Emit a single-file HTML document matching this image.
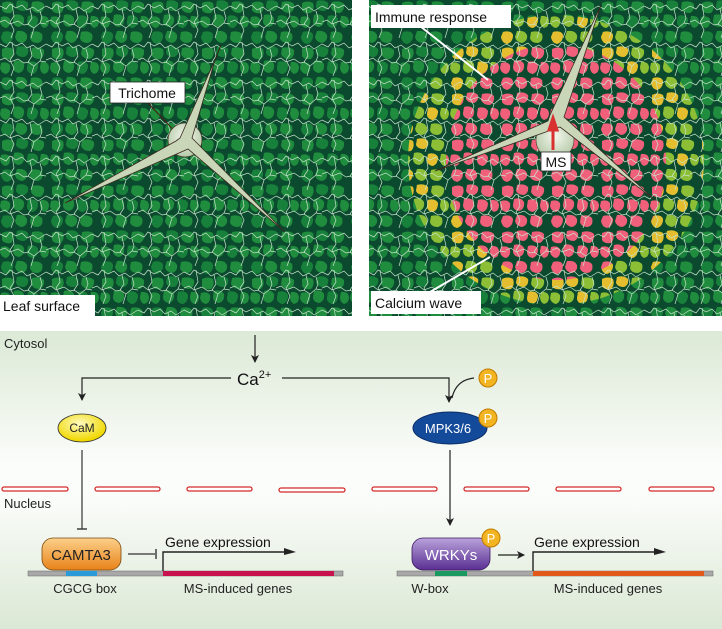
<!DOCTYPE html>
<html><head><meta charset="utf-8"><style>
html,body{margin:0;padding:0;background:#fff;}
svg{display:block;font-family:"Liberation Sans",Arial,sans-serif;}
</style></head><body>
<svg width="722" height="629" viewBox="0 0 722 629" xmlns="http://www.w3.org/2000/svg">
<defs>
 <g id="blobs">
  <path d="M2 3 Q8 0 13 3 Q15 9 11 13 Q4 14 2 10 Z"/>
  <path d="M17 1 Q24 -1 28 3 Q29 9 24 11 Q18 11 16 7 Z"/>
  <path d="M32 2 Q40 0 44 4 Q45 10 40 13 Q33 13 31 8 Z"/>
  <path d="M1 17 Q7 15 10 19 Q11 26 6 28 Q1 27 0 22 Z"/>
  <path d="M14 15 Q21 13 24 18 Q25 25 19 27 Q13 26 13 21 Z"/>
  <path d="M28 16 Q35 14 38 19 Q38 26 33 28 Q27 27 27 22 Z"/>
  <path d="M41 16 Q48 15 49 21 Q49 27 44 28 Q40 26 40 21 Z"/>
  <path d="M3 32 Q11 30 13 35 Q13 42 7 44 Q2 43 1 37 Z"/>
  <path d="M17 31 Q25 30 27 35 Q28 41 22 43 Q16 42 15 37 Z"/>
  <path d="M31 32 Q38 30 42 34 Q44 41 38 43 Q31 43 30 38 Z"/>
 </g>
 <pattern id="cellsG" width="50" height="46" patternUnits="userSpaceOnUse">
  <rect width="50" height="46" fill="#0b4a2e"/>
  <use href="#blobs" fill="#1f8c3e"/>
  <path d="M17 1 Q24 -1 28 3 Q29 9 24 11 Q18 11 16 7 Z M28 16 Q35 14 38 19 Q38 26 33 28 Q27 27 27 22 Z M3 32 Q11 30 13 35 Q13 42 7 44 Q2 43 1 37 Z" fill="#17803a"/>
 </pattern>
 <pattern id="cellsP" width="50" height="46" patternUnits="userSpaceOnUse">
  <rect width="50" height="46" fill="#0b4a2e"/>
  <use href="#blobs" fill="#f0607a"/>
 </pattern>
 <pattern id="cellsY" width="50" height="46" patternUnits="userSpaceOnUse">
  <rect width="50" height="46" fill="#0b4a2e"/>
  <use href="#blobs" fill="#8cbf36"/>
  <path d="M17 1 Q24 -1 28 3 Q29 9 24 11 Q18 11 16 7 Z M28 16 Q35 14 38 19 Q38 26 33 28 Q27 27 27 22 Z M3 32 Q11 30 13 35 Q13 42 7 44 Q2 43 1 37 Z M2 3 Q8 0 13 3 Q15 9 11 13 Q4 14 2 10 Z" fill="#e4be2e"/>
 </pattern>
 <pattern id="lines" width="46" height="38" patternUnits="userSpaceOnUse">
  <path d="M0 6 L6 9 L10 4 L16 8 L22 5 L27 10 L33 7 L38 11 L46 6 M12 4 L14 16 L10 22 L14 30 L11 38 M30 9 L32 18 L28 24 L34 28 L31 38 M0 22 L5 20 L10 24 L18 21 L24 25 L29 24 M34 28 L40 23 L46 24 M40 11 L42 18 L40 23" fill="none" stroke="#c8e4cc" stroke-width="0.7"/>
 </pattern>
 <linearGradient id="bg" x1="0" y1="0" x2="0" y2="1">
  <stop offset="0" stop-color="#dce9d6"/><stop offset="0.45" stop-color="#fbfdfa"/><stop offset="0.55" stop-color="#fbfdfa"/><stop offset="1" stop-color="#dbe8d5"/>
 </linearGradient>
 <linearGradient id="og" x1="0" y1="0" x2="0" y2="1"><stop offset="0" stop-color="#fbd08a"/><stop offset="1" stop-color="#e9831a"/></linearGradient>
 <linearGradient id="pg" x1="0" y1="0" x2="0" y2="1"><stop offset="0" stop-color="#b9a2dc"/><stop offset="1" stop-color="#5a2f92"/></linearGradient>
 <radialGradient id="yg" cx="0.45" cy="0.35" r="0.6"><stop offset="0" stop-color="#fffbc0"/><stop offset="1" stop-color="#f0d800"/></radialGradient>
 <radialGradient id="dome" cx="0.5" cy="0.4" r="0.6"><stop offset="0" stop-color="#f4f8ee"/><stop offset="1" stop-color="#b5c9a8"/></radialGradient>
 <clipPath id="cl"><rect x="0" y="0" width="352" height="316"/></clipPath>
 <clipPath id="cr"><rect x="369" y="0" width="353" height="316"/></clipPath>
 <marker id="ah" markerWidth="8" markerHeight="8" refX="7" refY="4" orient="auto" markerUnits="userSpaceOnUse"><path d="M0 0 L8 4 L0 8 L2 4z" fill="#222"/></marker>
</defs>

<g clip-path="url(#cl)">
 <rect x="0" y="0" width="352" height="316" fill="url(#cellsG)"/>
 <rect x="0" y="0" width="352" height="316" fill="url(#lines)"/>
 <line x1="148" y1="103" x2="183" y2="140" stroke="#4a1a10" stroke-width="1"/>
 <circle cx="185" cy="140" r="17" fill="url(#dome)" stroke="#4a3a2a" stroke-width="0.8"/>
 <path d="M180 138 L215 60 L192 138 L285 232 L188 149 L65 203 L176 141 Z" fill="#c9d6b8" stroke="#3a2a20" stroke-width="0.8"/>
 <line x1="215" y1="60" x2="221" y2="45" stroke="#3a1a10" stroke-width="1"/>
</g>
<rect x="110" y="82" width="75" height="21" fill="#fff" stroke="#222" stroke-width="0.8"/>
<text x="147" y="98" font-size="14" text-anchor="middle" fill="#111">Trichome</text>
<rect x="0" y="295" width="95" height="21" fill="#fff"/>
<text x="3" y="311" font-size="14" fill="#111">Leaf surface</text>

<g clip-path="url(#cr)">
 <rect x="369" y="0" width="353" height="316" fill="url(#cellsG)"/>
 <ellipse cx="556" cy="160" rx="148" ry="145" fill="url(#cellsY)"/>
 <ellipse cx="556" cy="162" rx="110" ry="118" fill="url(#cellsP)"/>
 <rect x="369" y="0" width="353" height="316" fill="url(#lines)"/>
 <circle cx="555" cy="140" r="19" fill="url(#dome)" stroke="#4a3a2a" stroke-width="0.6"/>
 <path d="M550 115 L601 5 L564 117 L655 200 L560 127 L435 171 L548 121 Z" fill="#c9d6b8" stroke="#3a2a20" stroke-width="0.8"/>
 <path d="M553 150 V127 M549 130 L553 118 L557 130 Z" stroke="#d93030" stroke-width="3" fill="#d93030"/>
</g>
<line x1="420" y1="26" x2="488" y2="80" stroke="#fff" stroke-width="2"/>
<line x1="430" y1="292" x2="490" y2="257" stroke="#fff" stroke-width="2"/>
<rect x="371" y="5" width="140" height="23" fill="#fff"/>
<text x="375" y="22" font-size="14" fill="#111">Immune response</text>
<rect x="541" y="152" width="30" height="19" fill="#fff" stroke="#222" stroke-width="0.8"/>
<text x="556" y="167" font-size="14" text-anchor="middle" fill="#111">MS</text>
<rect x="371" y="291" width="110" height="23" fill="#fff"/>
<text x="375" y="308" font-size="14" fill="#111">Calcium wave</text>

<rect x="0" y="331" width="722" height="298" fill="url(#bg)"/>
<text x="4" y="348" font-size="13" fill="#222">Cytosol</text>
<line x1="255" y1="335" x2="255" y2="362" stroke="#222" stroke-width="1.2" marker-end="url(#ah)"/>
<text x="237" y="385" font-size="17" fill="#111">Ca<tspan font-size="11" dy="-7">2+</tspan></text>
<path d="M231 378 H82 V400" fill="none" stroke="#222" stroke-width="1.2" marker-end="url(#ah)"/>
<path d="M282 378 H449 V402" fill="none" stroke="#222" stroke-width="1.2" marker-end="url(#ah)"/>
<path d="M474 378 Q456 380 452 398" fill="none" stroke="#222" stroke-width="1.2"/>
<circle cx="488" cy="378" r="9" fill="#f2b420" stroke="#c07a00" stroke-width="1"/>
<text x="488" y="383" font-size="13" text-anchor="middle" fill="#fff">P</text>

<ellipse cx="82" cy="428" rx="24" ry="14" fill="url(#yg)" stroke="#333" stroke-width="0.8"/>
<text x="82" y="432" font-size="12" text-anchor="middle" fill="#222">CaM</text>
<line x1="82" y1="450" x2="82" y2="529" stroke="#333" stroke-width="1.2"/>
<line x1="77" y1="529" x2="87" y2="529" stroke="#333" stroke-width="1.4"/>

<ellipse cx="450" cy="428" rx="37" ry="16" fill="#134a9a" stroke="#0a2c66" stroke-width="1"/>
<text x="448" y="433" font-size="13" text-anchor="middle" fill="#fff">MPK3/6</text>
<circle cx="488" cy="418" r="9" fill="#f2b420" stroke="#c07a00" stroke-width="1"/>
<text x="488" y="423" font-size="13" text-anchor="middle" fill="#fff">P</text>
<line x1="450" y1="450" x2="450" y2="525" stroke="#222" stroke-width="1.2" marker-end="url(#ah)"/>

<g fill="#fff" stroke="#d42a2a" stroke-width="1.3">
 <rect x="2" y="487" width="66" height="4" rx="2"/><rect x="95" y="487" width="65" height="4" rx="2"/>
 <rect x="187" y="487" width="65" height="4" rx="2"/><rect x="279" y="488" width="66" height="4" rx="2"/>
 <rect x="372" y="487" width="65" height="4" rx="2"/><rect x="464" y="487" width="65" height="4" rx="2"/>
 <rect x="556" y="487" width="65" height="4" rx="2"/><rect x="649" y="487" width="65" height="4" rx="2"/>
</g>
<text x="4" y="508" font-size="13" fill="#222">Nucleus</text>

<rect x="28" y="571" width="315" height="5" fill="#a8a8a8" stroke="#666" stroke-width="0.5"/>
<rect x="66" y="571" width="31" height="5" fill="#2a9ad8"/>
<rect x="163" y="571" width="171" height="5" fill="#c8124e"/>
<rect x="42" y="538" width="79" height="32" rx="11" fill="url(#og)" stroke="#7a4a10" stroke-width="0.8"/>
<text x="81" y="560" font-size="15" text-anchor="middle" fill="#222">CAMTA3</text>
<line x1="128" y1="554" x2="155" y2="554" stroke="#333" stroke-width="1.2"/>
<line x1="156" y1="549" x2="156" y2="559" stroke="#333" stroke-width="1.4"/>
<path d="M163 571 V552 H288" fill="none" stroke="#222" stroke-width="1.4"/>
<path d="M284 548 L296 552 L284 555 Z" fill="#222"/>
<text x="165" y="547" font-size="14" fill="#111">Gene expression</text>
<text x="85" y="593" font-size="13" text-anchor="middle" fill="#222">CGCG box</text>
<text x="238" y="593" font-size="13" text-anchor="middle" fill="#222">MS-induced genes</text>

<rect x="397" y="571" width="316" height="5" fill="#a8a8a8" stroke="#666" stroke-width="0.5"/>
<rect x="435" y="571" width="32" height="5" fill="#1a9a60"/>
<rect x="533" y="571" width="171" height="5" fill="#e0581a"/>
<rect x="412" y="538" width="78" height="32" rx="11" fill="url(#pg)" stroke="#3a1a60" stroke-width="0.8"/>
<text x="451" y="560" font-size="15" text-anchor="middle" fill="#fff">WRKYs</text>
<circle cx="491" cy="538" r="9" fill="#f2b420" stroke="#c07a00" stroke-width="1"/>
<text x="491" y="543" font-size="13" text-anchor="middle" fill="#fff">P</text>
<line x1="498" y1="555" x2="524" y2="555" stroke="#222" stroke-width="1.2" marker-end="url(#ah)"/>
<path d="M533 571 V552 H658" fill="none" stroke="#222" stroke-width="1.4"/>
<path d="M654 548 L666 552 L654 555 Z" fill="#222"/>
<text x="534" y="547" font-size="14" fill="#111">Gene expression</text>
<text x="430" y="593" font-size="13" text-anchor="middle" fill="#222">W-box</text>
<text x="608" y="593" font-size="13" text-anchor="middle" fill="#222">MS-induced genes</text>
</svg>
</body></html>
